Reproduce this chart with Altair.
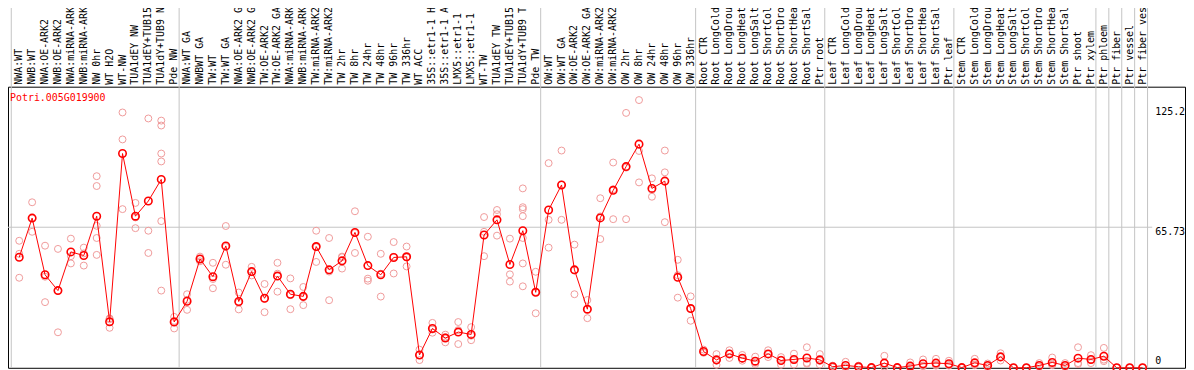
import altair as alt
import pandas as pd

# ---------------- data ----------------
gene_id = "Potri.005G019900"

labels = [
    # section 1
    "NWA:WT", "NWB:WT", "NWA:OE-ARK2", "NWB:OE-ARK2", "NWA:miRNA-ARK2", "NWB:miRNA-ARK2",
    "NW 0hr", "WT H2O", "WT-NW", "TUA1dEY NW", "TUA1dEY+TUB15 NW", "TUA1dY+TUB9 NW", "Pde NW",
    # section 2
    "NWA:WT GA", "NWBWT GA", "TW:WT", "TW:WT GA", "NWA:OE-ARK2 GA", "NWB:OE-ARK2 GA",
    "TW:OE-ARK2", "TW:OE-ARK2 GA", "NWA:miRNA-ARK2 GA", "NWB:miRNA-ARK2 GA", "TW:miRNA-ARK2",
    "TW:miRNA-ARK2 GA", "TW 2hr", "TW 8hr", "TW 24hr", "TW 48hr", "TW 96hr", "TW 336hr",
    "WT ACC", "35S::etr1-1 H2O", "35S::etr1-1 ACC", "LMX5::etr1-1 H2O", "LMX5::etr1-1 ACC",
    "WT-TW", "TUA1dEY TW", "TUA1dEY+TUB15 TW", "TUA1dY+TUB9 TW", "Pde TW",
    # section 3
    "OW:WT", "OW:WT GA", "OW:OE-ARK2", "OW:OE-ARK2 GA", "OW:miRNA-ARK2", "OW:miRNA-ARK2 GA",
    "OW 2hr", "OW 8hr", "OW 24hr", "OW 48hr", "OW 96hr", "OW 336hr",
    # section 4
    "Root CTR", "Root LongCold", "Root LongDrought", "Root LongHeat", "Root LongSalt",
    "Root ShortCold", "Root ShortDrought", "Root ShortHeat", "Root ShortSalt", "Ptr root",
    # section 5
    "Leaf CTR", "Leaf LongCold", "Leaf LongDrought", "Leaf LongHeat", "Leaf LongSalt",
    "Leaf ShortCold", "Leaf ShortDrought", "Leaf ShortHeat", "Leaf ShortSalt", "Ptr leaf",
    # section 6
    "Stem CTR", "Stem LongCold", "Stem LongDrought", "Stem LongHeat", "Stem LongSalt",
    "Stem ShortCold", "Stem ShortDrought", "Stem ShortHeat", "Stem ShortSalt", "Ptr shoot",
    "Ptr xylem",
    # single tissues
    "Ptr phloem", "Ptr fiber", "Ptr vessel", "Ptr fiber vessel",
]

section_sizes = [13, 28, 12, 10, 10, 11, 1, 1, 1, 1]

means = [
    51.7, 70.0, 43.5, 36.1, 54.2, 52.5, 70.9, 21.5, 100.2, 70.9, 78.0, 88.1, 21.4,
    31.1, 50.9, 42.6, 57.0, 31.0, 45.0, 32.5, 42.9, 34.4, 33.4, 56.7, 45.8, 50.0, 63.3,
    47.8, 43.5, 51.6, 51.9, 6.0, 18.4, 13.9, 16.7, 15.6, 62.1, 69.2, 48.3, 64.1, 35.3,
    73.8, 85.5, 45.8, 27.4, 70.1, 83.0, 94.1, 104.6, 83.9, 87.3, 42.3, 27.7,
    7.6, 3.7, 6.5, 4.5, 3.1, 6.5, 3.4, 3.9, 4.6, 3.7,
    0.5, 1.1, 0.5, 0.1, 2.2, 0.1, 0.8, 1.9, 2.2, 1.9,
    0.1, 2.3, 1.1, 5.1, 0.0, 0.0, 1.1, 2.5, 1.1, 4.5, 3.9,
    5.4, 0.0, 0.0, 0.0,
]

replicates = [
    [59.4, 53.3, 42.1], [77.4, 70.0, 63.6], [57.1, 42.6, 30.7], [55.6, 36.1, 16.6],
    [60.4, 52.2, 48.8], [56.2, 53.5, 47.8], [89.6, 85.0, 66.4, 60.7, 52.8], [23.1, 22.7, 18.7],
    [119.4, 106.8, 74.2], [77.1, 70.3, 65.3], [116.6, 64.1, 53.7],
    [115.6, 113.3, 100.2, 96.5, 68.6, 36.1], [23.8, 21.9, 18.4],
    [34.4, 31.8, 27.1], [52.0, 50.9, 49.8], [49.1, 41.5, 37.2], [66.3, 56.5, 48.2],
    [35.2, 30.5, 27.3], [47.2, 44.7, 43.2], [39.2, 32.3, 26.0], [49.1, 44.0, 35.6],
    [41.8, 34.0, 27.4], [37.8, 33.0, 29.3], [64.1, 56.4, 49.5], [60.7, 45.0, 31.6],
    [52.0, 51.7, 46.4], [73.2, 63.0, 53.7], [61.3, 41.7, 40.7], [53.3, 44.0, 33.3],
    [58.8, 51.9, 44.1], [56.7, 51.6, 47.4], [8.5, 6.0, 3.6], [21.0, 17.9, 16.4],
    [15.5, 14.3, 11.9], [21.4, 17.6, 11.1], [19.0, 15.0, 12.9], [70.5, 63.6, 52.2],
    [73.8, 71.8, 61.8], [60.4, 43.7, 40.3], [83.9, 75.1, 74.2, 70.9, 60.7, 48.8, 38.1],
    [44.9, 35.5, 25.5],
    [95.7, 69.2, 56.2], [101.6, 85.6, 69.2], [57.6, 45.5, 34.4], [31.7, 27.3, 23.2],
    [79.3, 70.8, 60.2], [96.0, 83.5, 69.5], [119.2, 93.6, 69.5], [125.2, 101.4, 86.7],
    [88.6, 83.2, 80.0], [101.6, 91.4, 68.1], [50.5, 43.3, 32.8], [33.4, 27.7, 22.0],
    [8.5, 7.3, 7.0], [6.4, 3.3, 1.4], [8.2, 6.7, 4.6], [6.0, 4.2, 3.3], [5.2, 2.4, 1.7],
    [8.2, 6.3, 5.0], [5.0, 3.8, 1.4], [6.6, 3.6, 1.5], [9.6, 2.3, 1.9], [6.4, 3.2, 1.5],
    [1.0, 0.3, 0.2], [2.8, 0.3, 0.2], [1.0, 0.3, 0.2], [0.2, 0.0, 0.0], [5.6, 0.5, 0.5],
    [0.1, 0.0, 0.0], [2.5, 0.0, 0.0], [3.9, 1.1, 0.7], [4.2, 1.3, 1.0], [3.3, 1.4, 1.0],
    [0.1, 0.0, 0.0], [4.2, 1.5, 1.2], [2.0, 1.0, 0.3], [6.8, 5.0, 3.4], [0.0, 0.0, 0.0],
    [0.0, 0.0, 0.0], [2.2, 0.6, 0.5], [4.8, 1.5, 1.2], [2.2, 0.7, 0.4], [9.6, 2.2, 1.7],
    [5.9, 3.6, 2.2],
    [9.3, 3.8, 3.1], [0.0, 0.0, 0.0], [0.0, 0.0, 0.0], [0.0, 0.0, 0.0],
]

y_top_label = 125.2
y_mid_label = 65.73
y_zero_label = 0

# ---------------- tables ----------------
n = len(labels)
df_mean = pd.DataFrame({"i": list(range(n)), "label": labels, "mean": means})
df_rep = pd.DataFrame(
    [{"i": i, "value": v} for i, reps in enumerate(replicates) for v in reps]
)
bounds = [0]
for s in section_sizes:
    bounds.append(bounds[-1] + s)
df_grid = pd.DataFrame({"b": [b - 0.5 for b in bounds]})

# ---------------- layout ----------------
W, H = 1185, 283
COL = 13.0
x0 = -11.3 / COL
xs = alt.Scale(domain=[x0, x0 + W / COL], nice=False, zero=False)
ys = alt.Scale(domain=[0, 2 * y_mid_label], nice=False, zero=True)
FONT = "DejaVu Sans Mono"

vgrid = alt.Chart(df_grid).mark_rule(color="#c4c4c4", strokeWidth=1, xOffset=-1.5).encode(
    x=alt.X("b:Q", scale=xs, axis=None), y=alt.value(-80), y2=alt.value(H)
)
hgrid = alt.Chart(pd.DataFrame({"v": [y_mid_label]})).mark_rule(
    color="#c4c4c4", strokeWidth=1
).encode(y=alt.Y("v:Q", scale=ys, axis=None), x=alt.value(0), x2=alt.value(1152))

reps = alt.Chart(df_rep).mark_point(
    shape="circle", filled=False, color="#ef9a9a", size=49, strokeWidth=1, opacity=1
).encode(x=alt.X("i:Q", scale=xs, axis=None), y=alt.Y("value:Q", scale=ys, axis=None))

line = alt.Chart(df_mean).mark_line(color="#ff0000", strokeWidth=1).encode(
    x=alt.X("i:Q", scale=xs, axis=None), y=alt.Y("mean:Q", scale=ys, axis=None)
)
pts = alt.Chart(df_mean).mark_point(
    shape="circle", filled=False, color="#ff0000", size=56, strokeWidth=1.6, opacity=1
).encode(x=alt.X("i:Q", scale=xs, axis=None), y=alt.Y("mean:Q", scale=ys, axis=None))

col_labels = alt.Chart(df_mean).mark_text(
    angle=270, align="left", baseline="middle", font=FONT, fontSize=10, color="black"
).encode(x=alt.X("i:Q", scale=xs, axis=None), y=alt.value(-2), text="label:N")

title = alt.Chart(pd.DataFrame({"t": [gene_id]})).mark_text(
    align="left", baseline="alphabetic", font=FONT, fontSize=10, color="#ff0000"
).encode(x=alt.value(2), y=alt.value(14), text="t:N")


def ylabel(val, baseline, dy):
    return alt.Chart(pd.DataFrame({"v": [val], "t": [f"{val:g}"]})).mark_text(
        align="left", baseline=baseline, font=FONT, fontSize=10, color="black", dy=dy
    ).encode(x=alt.value(1155), y=alt.Y("v:Q", scale=ys, axis=None), text="t:N")


chart = alt.layer(
    vgrid, hgrid, reps, line, pts, col_labels, title,
    ylabel(y_top_label, "top", 7), ylabel(y_mid_label, "top", 0), ylabel(y_zero_label, "bottom", -2),
).properties(
    width=W, height=H,
    padding={"left": 0, "top": 78, "right": 1, "bottom": 1},
    autosize=alt.AutoSizeParams(type="none"),
).configure_view(stroke="black", strokeWidth=1)

chart.save("out.html", embed_options={"renderer": "svg", "actions": False})
